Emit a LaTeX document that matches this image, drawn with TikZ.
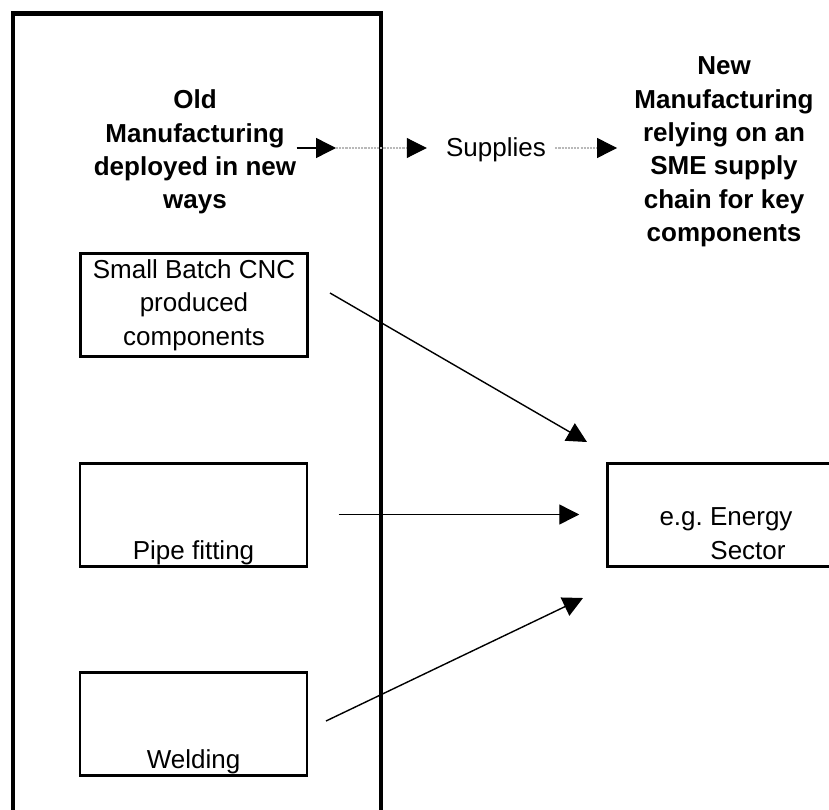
\documentclass[tikz,border=0pt]{standalone}
\usepackage{fontspec}
\setmainfont{Liberation Sans}
\usetikzlibrary{arrows.meta}

\begin{document}
\begin{tikzpicture}[>={Triangle[length=4mm, width=4mm]},
    every node/.style={font=\fontsize{14.8}{19}\selectfont},
    title/.style={font=\fontsize{14.8}{19}\selectfont\bfseries, align=center, inner sep=0pt},
    box/.style={draw, line width=1.7pt, minimum width=4.54cm, minimum height=2.06cm, inner sep=0pt},
    lowtext/.style={box, text height=1.91cm, text depth=0.13cm, align=center},
    link/.style={->, line width=0.8pt},
    faint/.style={dash pattern=on 1.2pt off 0.6pt, gray!55, line width=0.6pt,
      -{Triangle[length=4mm, width=4mm, color=black, fill=black]}}]
    \clip (0, 0) rectangle (16.58, 16.18);
    % old manufacturing frame, open at the bottom
    \draw[line width=2.3pt] (0.26, -0.5) -- (0.26, 15.91) -- (7.62, 15.91) -- (7.62, -0.5);
    \node[title] (old) at (3.9, 13.14) {Old\\Manufacturing\\deployed in new\\ways};
    \node[title] (new) at (14.48, 13.14) {New\\Manufacturing\\relying on an\\SME supply\\chain for key\\components};
    \node[inner sep=0pt] (supplies) at (9.92, 13.19) {Supplies};
    \node[box, align=center] (cnc) at (3.88, 10.08) {Small Batch CNC\\produced\\components};
    \node[lowtext] (pipe) at (3.87, 5.89) {Pipe fitting};
    \node[lowtext] (weld) at (3.87, 1.71) {Welding};
    \node[lowtext, minimum width=4.75cm] (energy) at (14.52, 5.89) {e.g.\ Energy\\\hspace*{0.88cm}Sector};
    % free ends of the connectors
    \coordinate (tip1) at (6.72, 13.22);
    \coordinate (cnc out) at (6.6, 10.32);
    \coordinate (cnc in) at (11.74, 7.34);
    \coordinate (weld out) at (6.52, 1.76);
    \coordinate (weld in) at (11.66, 4.22);
    \draw[link] (old.east |- tip1) -- (tip1);
    \draw[faint, shorten >=0.38cm] (tip1) -- (supplies.west |- tip1);
    \draw[faint, shorten <=0.18cm, shorten >=0.34cm] (supplies.east |- tip1) -- (new.west |- tip1);
    \draw[link] (cnc out) -- (cnc in);
    \draw[link, shorten <=0.6cm, shorten >=0.53cm] (pipe.east) -- (energy.west);
    \draw[link] (weld out) -- (weld in);
  \end{tikzpicture}
\end{document}
